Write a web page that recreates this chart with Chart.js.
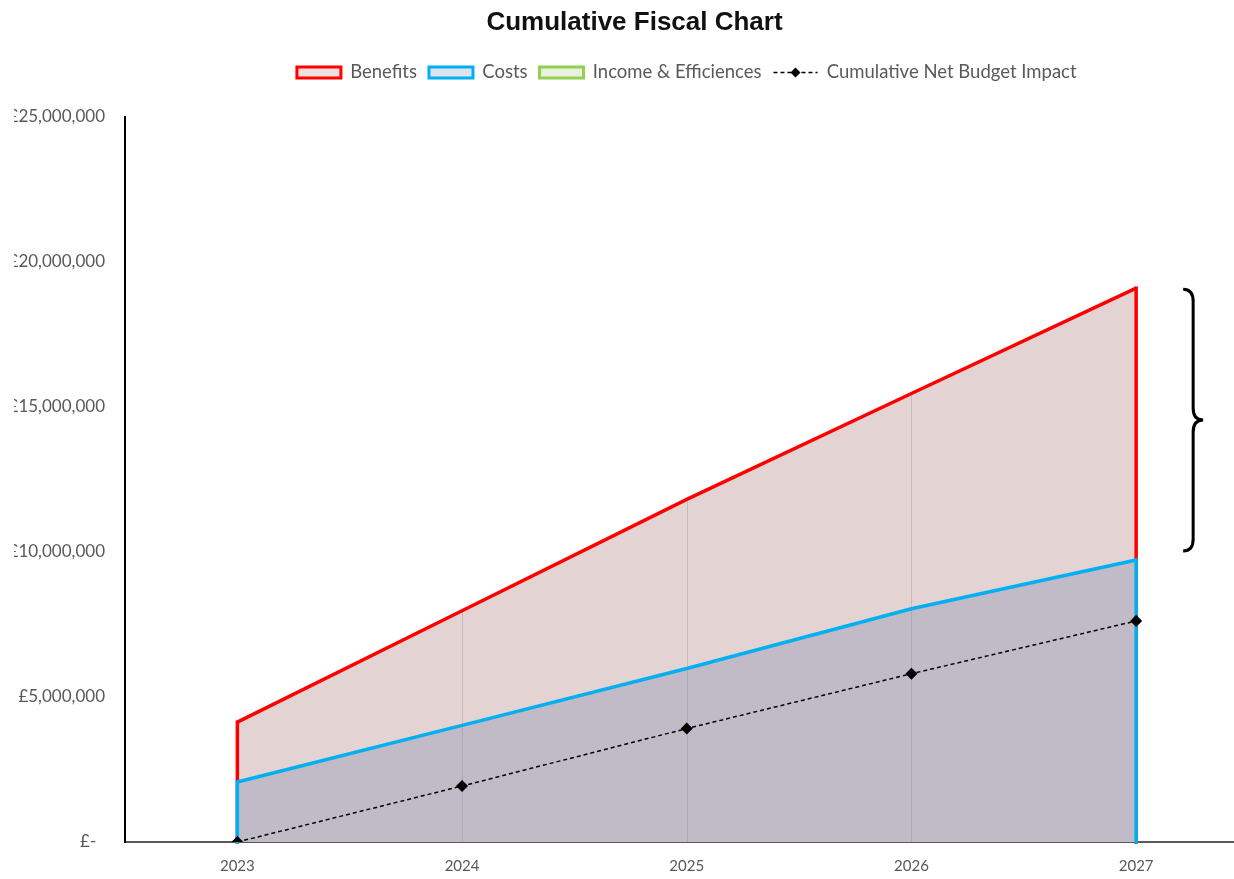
<!DOCTYPE html>
<html>
<head>
    <meta charset="utf-8" />
    <script src="https://cdn.jsdelivr.net/npm/chart.js"></script>
    <style>
        html, body {
            margin: 0;
            padding: 0;
            background: white;
            overflow: hidden;
        }
        .chart-box {
            width: 1255px;
            height: 879px;
        }
    </style>
</head>
<body>
    <div class="chart-box">
        <canvas id="fiscalChart"></canvas>
    </div>

    <script>
        // values (GBP, cumulative)
        const years = ['2023', '2024', '2025', '2026', '2027'];
        const benefits = [4130000, 7970000, 11810000, 15460000, 19090000];
        const costs = [2070000, 4020000, 5980000, 8040000, 9720000];
        const incomeEfficiencies = [0, 0, 0, 0, 0];
        const netImpact = [0, 1930000, 3910000, 5800000, 7620000];

        const legendFills = ['#f2dedd', '#dde4ef', '#e9f2df', 'rgba(0,0,0,0)'];
        const legendBorders = ['#ff0000', '#00b0f0', '#92d050', 'rgba(0,0,0,0)'];

        const gbp = v => v === 0 ? '£-  ' : '£' + v.toLocaleString('en-GB');

        // vertical sides of the areas, drop lines and the brace
        const areaExtras = {
            id: 'areaExtras',
            afterDatasetDraw(chart, args) {
                const ds = chart.data.datasets[args.index];
                if (!ds.edges) return;
                const ctx = chart.ctx;
                const pts = args.meta.data;
                const y0 = chart.scales.y.getPixelForValue(0);
                ctx.save();
                ctx.strokeStyle = ds.borderColor;
                ctx.lineWidth = ds.borderWidth;
                ctx.lineCap = 'square';
                ctx.beginPath();
                [pts[0], pts[pts.length - 1]].forEach(p => {
                    ctx.moveTo(p.x, p.y);
                    ctx.lineTo(p.x, y0);
                });
                ctx.stroke();
                ctx.restore();
            },
            beforeDatasetDraw(chart, args) {
                if (args.index !== 3) return;
                const ctx = chart.ctx;
                const pts = chart.getDatasetMeta(0).data;
                const y0 = chart.scales.y.getPixelForValue(0);
                ctx.save();
                ctx.strokeStyle = 'rgba(140,130,130,0.3)';
                ctx.lineWidth = 1;
                ctx.beginPath();
                for (let i = 1; i < pts.length - 1; i++) {
                    const x = Math.round(pts[i].x) + 0.5;
                    ctx.moveTo(x, pts[i].y + 2);
                    ctx.lineTo(x, y0);
                }
                ctx.stroke();
                ctx.restore();
            },
            afterDraw(chart) {
                const ctx = chart.ctx;
                const last = years.length - 1;
                const x = chart.scales.x.getPixelForValue(last);
                const yTop = chart.scales.y.getPixelForValue(benefits[last]) + 1;
                const yBot = chart.scales.y.getPixelForValue(costs[last]) - 9;
                const yMid = (yTop + yBot) / 2;
                const xL = x + 47, xM = x + 57, xR = x + 67;

                ctx.save();
                ctx.strokeStyle = '#000';
                ctx.lineWidth = 3;
                ctx.beginPath();
                ctx.moveTo(xL, yTop);
                ctx.quadraticCurveTo(xM, yTop, xM, yTop + 12);
                ctx.lineTo(xM, yMid - 12);
                ctx.quadraticCurveTo(xM, yMid, xR, yMid);
                ctx.quadraticCurveTo(xM, yMid, xM, yMid + 12);
                ctx.lineTo(xM, yBot - 12);
                ctx.quadraticCurveTo(xM, yBot, xL, yBot);
                ctx.stroke();

                // legend icon for the dashed net line
                const box = chart.legend.legendHitBoxes[3];
                if (box) {
                    const bw = chart.legend.options.labels.boxWidth;
                    const cy = box.top + box.height / 2;
                    ctx.strokeStyle = '#000';
                    ctx.lineWidth = 1.5;
                    ctx.setLineDash([4, 3]);
                    ctx.beginPath();
                    ctx.moveTo(box.left, cy);
                    ctx.lineTo(box.left + bw, cy);
                    ctx.stroke();
                    ctx.setLineDash([]);
                    const cx = box.left + bw / 2;
                    ctx.fillStyle = '#000';
                    ctx.beginPath();
                    ctx.moveTo(cx, cy - 5);
                    ctx.lineTo(cx + 5, cy);
                    ctx.lineTo(cx, cy + 5);
                    ctx.lineTo(cx - 5, cy);
                    ctx.closePath();
                    ctx.fill();
                }
                ctx.restore();
            }
        };

        document.fonts.load('18px Lato').then(() => {
            new Chart(document.getElementById('fiscalChart'), {
                type: 'line',
                data: {
                    labels: years,
                    datasets: [
                        {
                            label: 'Benefits',
                            data: benefits,
                            borderColor: '#ff0000',
                            backgroundColor: '#e3d3d3',
                            borderWidth: 3.5,
                            fill: 'origin',
                            pointRadius: 0,
                            edges: true,
                            order: 3
                        },
                        {
                            label: 'Costs',
                            data: costs,
                            borderColor: '#00b0f0',
                            backgroundColor: '#c1bac7',
                            borderWidth: 3.5,
                            fill: 'origin',
                            pointRadius: 0,
                            edges: true,
                            order: 2
                        },
                        {
                            label: 'Income & Efficiences',
                            data: incomeEfficiencies,
                            borderColor: '#92d050',
                            backgroundColor: '#e9f2df',
                            showLine: false,
                            fill: false,
                            pointRadius: 0,
                            order: 1
                        },
                        {
                            label: 'Cumulative Net Budget Impact',
                            data: netImpact,
                            borderColor: '#000',
                            backgroundColor: '#000',
                            borderWidth: 1.5,
                            borderDash: [4, 3],
                            fill: false,
                            pointStyle: 'rectRot',
                            pointRadius: 5,
                            pointBackgroundColor: '#000',
                            pointBorderColor: '#000',
                            order: 0
                        }
                    ]
                },
                options: {
                    responsive: true,
                    maintainAspectRatio: false,
                    animation: false,
                    layout: {
                        padding: { left: 14, right: 0, top: 0, bottom: 0 }
                    },
                    plugins: {
                        title: {
                            display: true,
                            text: 'Cumulative Fiscal Chart',
                            color: '#111',
                            font: { family: '"Liberation Sans", Arial, sans-serif', size: 26, weight: 'bold' },
                            padding: { top: 7, bottom: 13 }
                        },
                        // empty spacer between legend and plot
                        subtitle: {
                            display: true,
                            text: '',
                            weight: 500,
                            font: { size: 1, lineHeight: 1 },
                            padding: { top: 0, bottom: 24 }
                        },
                        legend: {
                            position: 'top',
                            fullSize: false,
                            labels: {
                                color: '#595959',
                                font: { family: 'Lato, sans-serif', size: 18.5 },
                                boxWidth: 44,
                                boxHeight: 11,
                                padding: 12,
                                sort: (a, b) => a.datasetIndex - b.datasetIndex,
                                generateLabels(chart) {
                                    const items = Chart.defaults.plugins.legend.labels.generateLabels(chart);
                                    items.forEach(item => {
                                        const i = item.datasetIndex;
                                        item.fillStyle = legendFills[i];
                                        item.strokeStyle = legendBorders[i];
                                        item.lineWidth = i < 3 ? 3 : 0;
                                        item.lineDash = [];
                                    });
                                    return items;
                                }
                            }
                        },
                        tooltip: { enabled: false }
                    },
                    scales: {
                        x: {
                            offset: true,
                            z: 1,
                            grid: { display: false, drawTicks: false },
                            border: { color: '#595959', width: 2 },
                            ticks: {
                                color: '#595959',
                                font: { family: 'Lato, sans-serif', size: 15 },
                                padding: 15
                            },
                            afterFit(scale) {
                                scale.height = 37;
                            }
                        },
                        y: {
                            min: 0,
                            max: 25000000,
                            grid: { display: false, drawTicks: false },
                            border: { color: '#000', width: 2 },
                            ticks: {
                                stepSize: 5000000,
                                color: '#595959',
                                font: { family: 'Lato, sans-serif', size: 17 },
                                padding: 20,
                                callback: v => gbp(v)
                            },
                            afterFit(scale) {
                                scale.width = 111;
                            }
                        }
                    }
                },
                plugins: [areaExtras]
            });
        });
    </script>
</body>
</html>
